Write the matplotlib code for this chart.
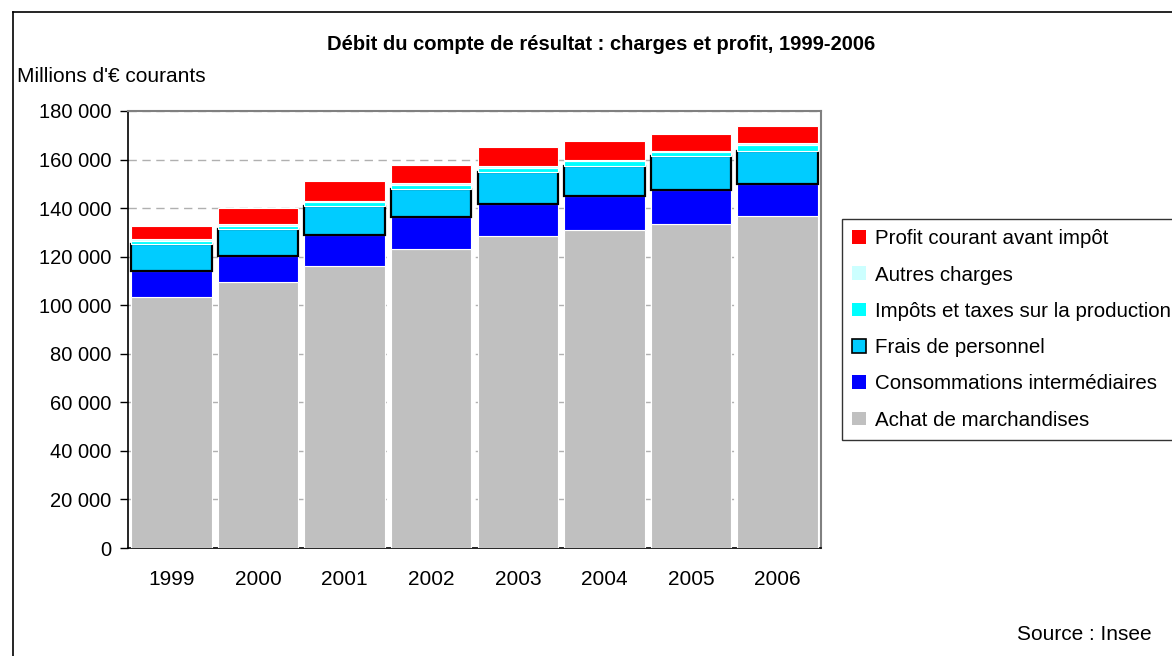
import matplotlib
matplotlib.use("Agg")
import matplotlib.pyplot as plt
from matplotlib.patches import Patch
from matplotlib.lines import Line2D
import numpy as np

plt.rcParams['font.family'] = ['Liberation Sans', 'DejaVu Sans']

years = ["1999", "2000", "2001", "2002", "2003", "2004", "2005", "2006"]
achat = [103.4, 109.7, 116.1, 123.1, 128.6, 131.1, 133.4, 136.7]
consommations = [10.7, 10.7, 12.9, 13.1, 13.2, 13.7, 13.9, 13.1]
frais = [11.0, 10.9, 11.7, 11.7, 13.2, 12.5, 14.0, 13.8]
impots = [1.3, 1.5, 1.8, 1.6, 1.7, 2.0, 1.8, 2.5]
autres = [0.7, 0.5, 0.6, 1.0, 0.6, 0.4, 0.4, 0.6]
profit = [5.5, 6.6, 7.9, 7.2, 7.9, 7.8, 7.1, 7.2]

series = [
    ("Achat de marchandises", achat, "#C0C0C0", "white"),
    ("Consommations intermédiaires", consommations, "#0000FF", "white"),
    ("Frais de personnel", frais, "#00CCFF", "black"),
    ("Impôts et taxes sur la production", impots, "#00FFFF", "white"),
    ("Autres charges", autres, "#CCFFFF", "white"),
    ("Profit courant avant impôt", profit, "#FF0000", "white"),
]

W, H = 1172, 656
fig = plt.figure(figsize=(W / 100, H / 100), dpi=100)
fig.patch.set_facecolor("white")
ax = fig.add_axes([128 / W, (H - 548) / H, (821 - 128) / W, (548 - 111) / H])

x = np.arange(len(years))
bottom = np.zeros(len(years))
handles = []
for label, vals, color, edge in series:
    v = np.array(vals) * 1000
    lw = 1.6 if edge == "black" else 0.8
    ax.bar(x, v, width=0.93, bottom=bottom, color=color, edgecolor=edge,
           linewidth=lw, zorder=3)
    bottom += v
    handles.append(Patch(facecolor=color, edgecolor=("black" if edge == "black" else color),
                         linewidth=(1.2 if edge == "black" else 0), label=label))

ax.set_xlim(-0.5, len(years) - 0.5)
ax.set_ylim(0, 180000)
ax.set_yticks(np.arange(0, 180001, 20000))
ax.set_yticklabels([f"{int(t):,}".replace(",", " ") for t in np.arange(0, 180001, 20000)],
                   fontsize=14.5)
ax.set_xticks(x)
ax.set_xticklabels(years, fontsize=15)
ax.tick_params(axis="x", length=0, pad=15.5)
ax.tick_params(axis="y", length=6, width=1, direction="out", pad=6, color="black")
for t in np.arange(20000, 180001, 20000):
    ax.axhline(t, color="#B0B0B0", linestyle=(0, (6, 4)), linewidth=1, zorder=1)

ax.spines["left"].set_color("black")
ax.spines["bottom"].set_color("black")
ax.spines["left"].set_linewidth(1.2)
ax.spines["bottom"].set_linewidth(1.2)
ax.spines["top"].set_color("#808080")
ax.spines["right"].set_color("#808080")
ax.spines["top"].set_linewidth(1.5)
ax.spines["right"].set_linewidth(1.5)

fig.text(601 / W, 1 - 44 / H, "Débit du compte de résultat : charges et profit, 1999-2006",
         ha="center", va="center", fontsize=14.5, fontweight="bold")
fig.text(17 / W, 1 - 77 / H, "Millions d'€ courants", ha="left", va="center", fontsize=15)
fig.text(1152 / W, 1 - 635 / H, "Source : Insee", ha="right", va="center", fontsize=15)

leg = fig.legend(handles=handles[::-1], loc="upper left",
                 bbox_to_anchor=(842 / W, 1 - 219 / H), fontsize=14.8,
                 frameon=True, fancybox=False, edgecolor="black",
                 handlelength=0.65, handleheight=0.65, handletextpad=0.45,
                 labelspacing=0.84, borderpad=0.5, borderaxespad=0)
leg.get_frame().set_linewidth(1.0)

# outer frame (left and top visible)
fig.add_artist(Line2D([13 / W, 13 / W], [0, 1 - 12 / H], color="black", linewidth=1.2,
                      transform=fig.transFigure))
fig.add_artist(Line2D([13 / W, 1], [1 - 12 / H, 1 - 12 / H], color="black", linewidth=1.2,
                      transform=fig.transFigure))

fig.savefig("out.png", dpi=100)
